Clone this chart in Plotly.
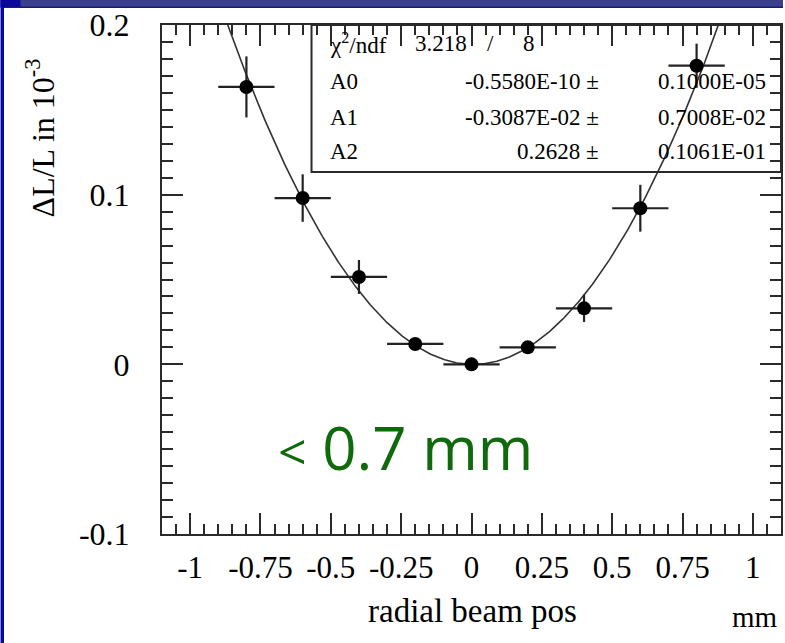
import numpy as np
import plotly.graph_objects as go

# ---------------- data ----------------
x_pos = [-0.8, -0.6, -0.4, -0.2, 0.0, 0.2, 0.4, 0.6, 0.8]
dL_L = [0.1635, 0.098, 0.0515, 0.012, 0.0, 0.010, 0.033, 0.092, 0.176]
y_err = [0.018, 0.014, 0.010, 0.003, 0.002, 0.003, 0.008, 0.0138, 0.013]
x_err = [0.1] * 9

# fit parameters (pol2) as shown in the stats box
fit_par = [-0.5580e-10, -0.3087e-02, 0.2628]
fit_err_txt = ["0.1000E-05", "0.7008E-02", "0.1061E-01"]
fit_val_txt = ["-0.5580E-10 \u00b1", "-0.3087E-02 \u00b1", "0.2628 \u00b1"]
par_names = ["A0", "A1", "A2"]
chi2_txt, ndf_txt = "3.218", "8"

x_ticks = [-1, -0.75, -0.5, -0.25, 0, 0.25, 0.5, 0.75, 1]
x_ticktext = ["-1", "-0.75", "-0.5", "-0.25", "0", "0.25", "0.5", "0.75", "1"]
y_ticks = [-0.1, 0, 0.1, 0.2]
y_ticktext = ["-0.1", "0", "0.1", "0.2"]

# ---------------- layout geometry ----------------
W, H = 785, 643
ML, MR, MT, MB = 162, 2, 25, 109
PW, PH = W - ML - MR, H - MT - MB


def px2x(px):
    return (px - ML) / PW


def px2y(py):
    return (H - MB - py) / PH


SERIF = "Liberation Serif, Times New Roman, serif"
AX = "#2a2a2a"

xc = np.linspace(-1.1, 1.1, 441)
yc = fit_par[0] + fit_par[1] * xc + fit_par[2] * xc ** 2

fig = go.Figure()
fig.add_trace(go.Scatter(x=xc, y=yc, mode="lines",
                         line=dict(color="#333333", width=1.6),
                         showlegend=False, hoverinfo="skip"))
fig.add_trace(go.Scatter(
    x=x_pos, y=dL_L, mode="markers",
    marker=dict(color="black", size=14),
    error_y=dict(type="data", array=y_err, thickness=2.2, width=0, color="#222"),
    error_x=dict(type="data", array=x_err, thickness=2.2, width=0, color="#222"),
    showlegend=False))

axis_common = dict(
    showgrid=False, zeroline=False, showline=True, linewidth=2, linecolor=AX,
    mirror="ticks", ticks="inside", ticklen=21, tickwidth=2, tickcolor=AX,
    tickangle=0,
)

fig.update_xaxes(range=[-1.1, 1.1], tickmode="array", tickvals=x_ticks,
                 ticktext=x_ticktext, ticklabelstandoff=5,
                 tickfont=dict(family=SERIF, size=31, color="black"),
                 minor=dict(dtick=0.05, tick0=0, ticks="inside", ticklen=10,
                            tickwidth=2, tickcolor=AX),
                 **axis_common)
fig.update_yaxes(range=[-0.1, 0.2], tickmode="array", tickvals=y_ticks,
                 ticktext=y_ticktext, ticklabelstandoff=24,
                 tickfont=dict(family=SERIF, size=32, color="black"),
                 minor=dict(dtick=0.01, tick0=0, ticks="inside", ticklen=11,
                            tickwidth=2, tickcolor=AX),
                 **axis_common)

annotations = []
# axis titles
annotations.append(dict(x=px2x(40), y=px2y(138), xref="paper", yref="paper",
                        text="\u0394L/L in 10<sup>-3</sup>", textangle=-90,
                        showarrow=False, font=dict(family=SERIF, size=32, color="black"),
                        xanchor="center", yanchor="middle"))
annotations.append(dict(x=px2x(474), y=px2y(611), xref="paper", yref="paper",
                        text="radial beam pos", showarrow=False,
                        font=dict(family=SERIF, size=33, color="black"),
                        xanchor="center", yanchor="middle"))
annotations.append(dict(x=px2x(757), y=px2y(617), xref="paper", yref="paper",
                        text="mm", showarrow=False,
                        font=dict(family=SERIF, size=29, color="black"),
                        xanchor="center", yanchor="middle"))

# stats box text
SF = dict(family=SERIF, size=23, color="black")
row_y = [44, 81, 117, 152]
annotations.append(dict(x=px2x(329), y=px2y(row_y[0]), xref="paper", yref="paper",
                        text="\u03c7<sup>2</sup>/ndf", showarrow=False, font=SF,
                        xanchor="left", yanchor="middle"))
annotations.append(dict(x=px2x(470), y=px2y(row_y[0]), xref="paper", yref="paper",
                        text=chi2_txt, showarrow=False, font=SF,
                        xanchor="right", yanchor="middle"))
annotations.append(dict(x=px2x(492), y=px2y(row_y[0]), xref="paper", yref="paper",
                        text="/", showarrow=False, font=SF,
                        xanchor="center", yanchor="middle"))
annotations.append(dict(x=px2x(538), y=px2y(row_y[0]), xref="paper", yref="paper",
                        text=ndf_txt, showarrow=False, font=SF,
                        xanchor="right", yanchor="middle"))
for i in range(3):
    yy = px2y(row_y[i + 1])
    annotations.append(dict(x=px2x(329), y=yy, xref="paper", yref="paper",
                            text=par_names[i], showarrow=False, font=SF,
                            xanchor="left", yanchor="middle"))
    annotations.append(dict(x=px2x(602), y=yy, xref="paper", yref="paper",
                            text=fit_val_txt[i], showarrow=False, font=SF,
                            xanchor="right", yanchor="middle"))
    annotations.append(dict(x=px2x(770), y=yy, xref="paper", yref="paper",
                            text=fit_err_txt[i], showarrow=False, font=SF,
                            xanchor="right", yanchor="middle"))

# green comment
annotations.append(dict(x=px2x(406), y=px2y(447), xref="paper", yref="paper",
                        text="<span style='font-size:50px'>&lt;</span> 0.7 mm",
                        showarrow=False,
                        font=dict(family="Open Sans, Noto Sans, sans-serif", size=60,
                                  color="#0f6a0c"),
                        xanchor="center", yanchor="middle"))

shapes = [
    # stats box
    dict(type="rect", xref="paper", yref="paper", x0=px2x(312), x1=1, y0=px2y(172), y1=1,
         line=dict(color=AX, width=2), fillcolor="rgba(0,0,0,0)", layer="above"),
    # slide decoration: top bar and left strip
    dict(type="rect", xref="paper", yref="paper", x0=px2x(0), x1=px2x(W), y0=px2y(7), y1=px2y(0),
         line=dict(width=0), fillcolor="#3b3f8c", layer="above"),
    dict(type="rect", xref="paper", yref="paper", x0=px2x(0), x1=px2x(W), y0=px2y(8), y1=px2y(6.5),
         line=dict(width=0), fillcolor="#1a1a7a", layer="above"),
    dict(type="rect", xref="paper", yref="paper", x0=px2x(0), x1=px2x(20), y0=px2y(7), y1=px2y(0),
         line=dict(width=0), fillcolor="#0a0a9a", layer="above"),
    dict(type="rect", xref="paper", yref="paper", x0=px2x(0), x1=px2x(3.5), y0=px2y(H), y1=px2y(0),
         line=dict(width=0), fillcolor="#0a0a9a", layer="above"),
]

fig.update_layout(width=W, height=H, margin=dict(l=ML, r=MR, t=MT, b=MB),
                  paper_bgcolor="white", plot_bgcolor="white",
                  annotations=annotations, shapes=shapes, showlegend=False)

fig.write_html("out.html")
